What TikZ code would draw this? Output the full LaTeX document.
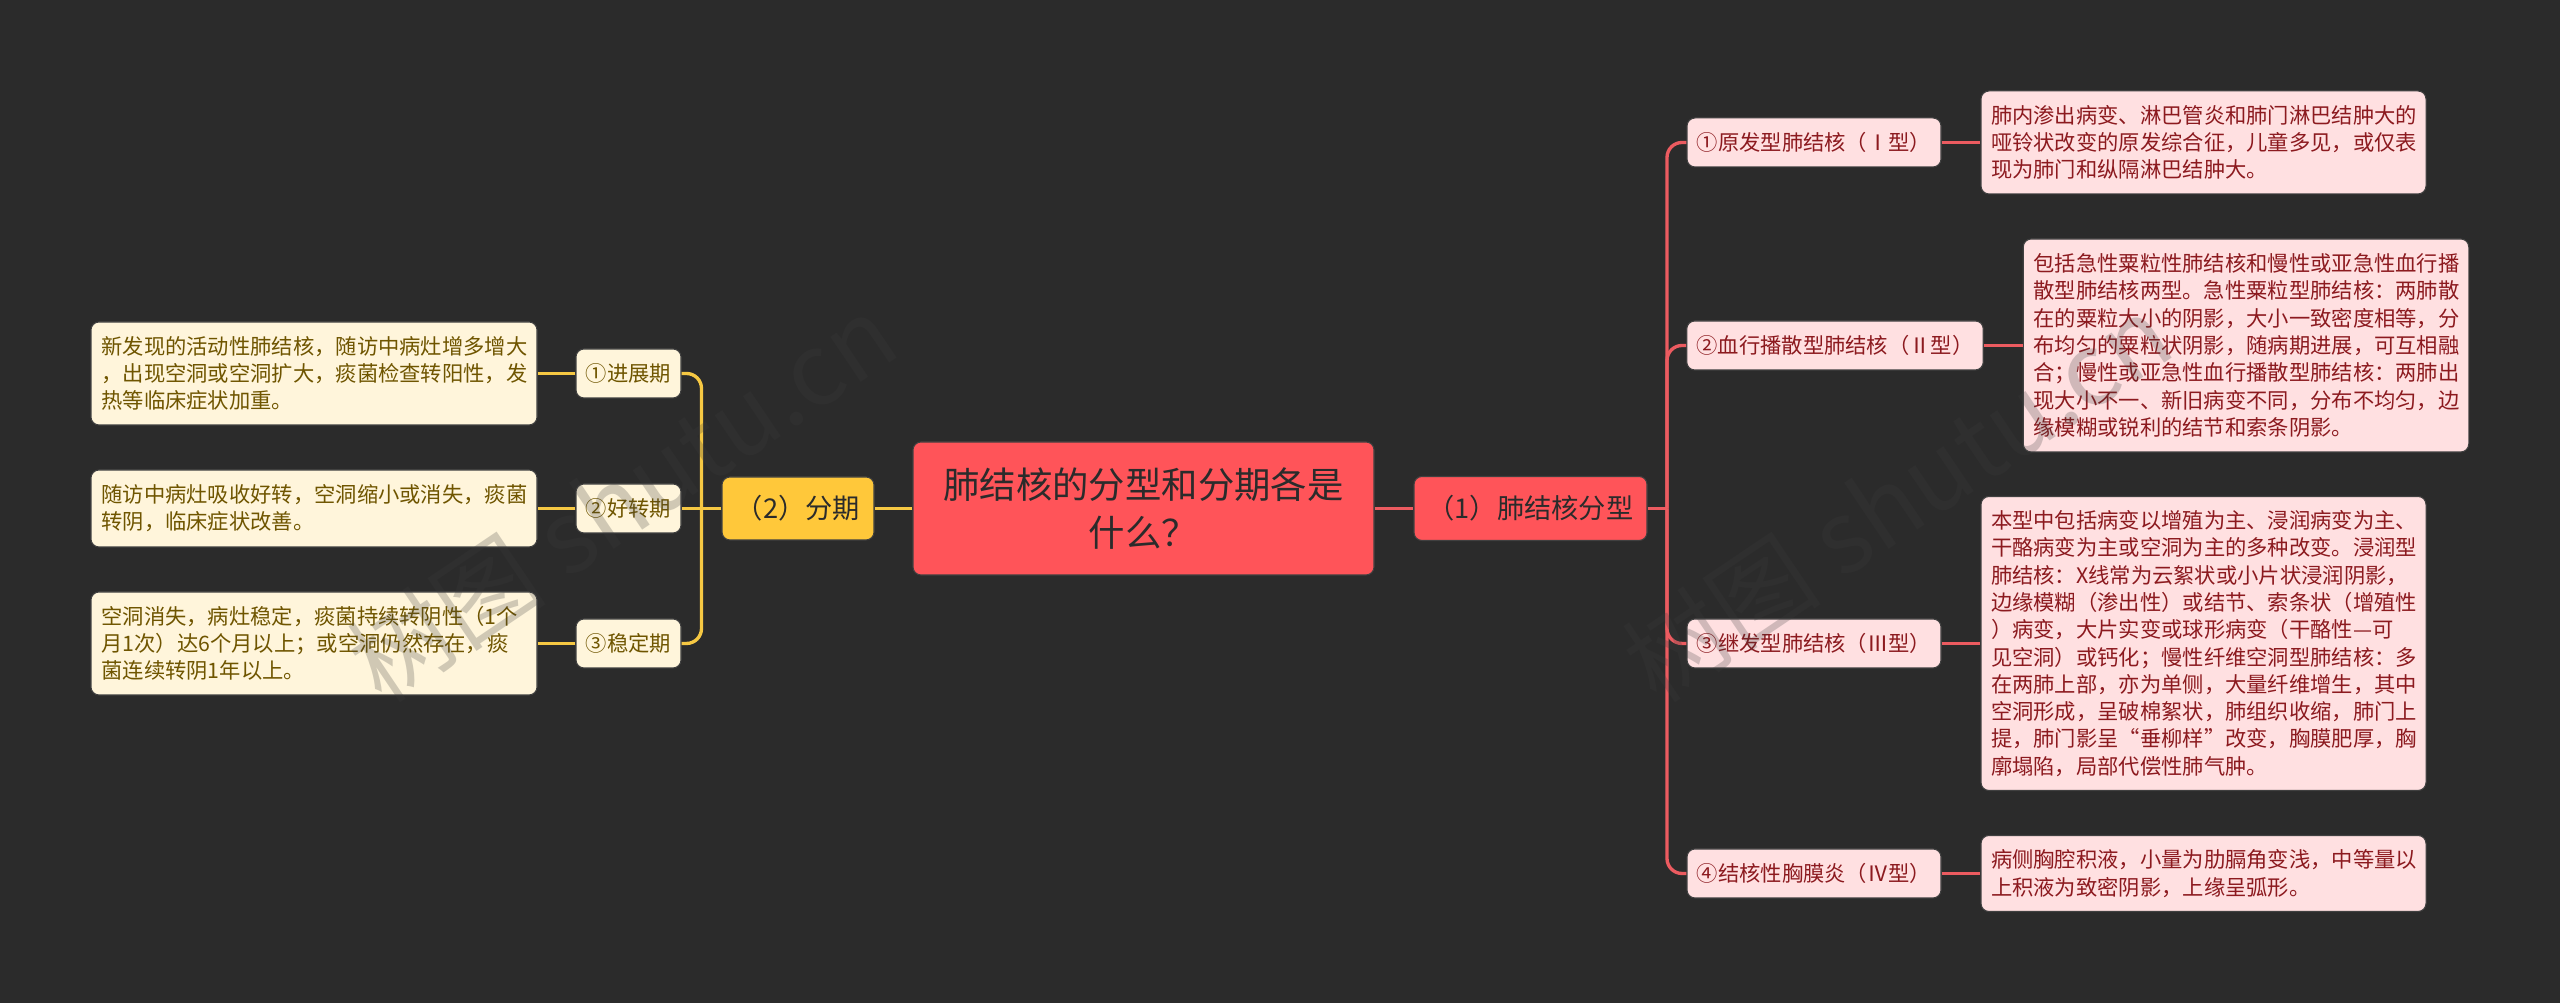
\documentclass[tikz,border=0pt]{standalone}
\usepackage{fontspec}
\setmainfont{Noto Sans CJK SC}
\definecolor{bgdark}{HTML}{2B2B2B}
\definecolor{rootred}{HTML}{FF5459}
\definecolor{linered}{HTML}{EC5B60}
\definecolor{lineyel}{HTML}{F6C843}
\definecolor{stageyel}{HTML}{FFC83A}
\definecolor{paleyel}{HTML}{FFF5DB}
\definecolor{palered}{HTML}{FFE0E1}
\definecolor{textyel}{HTML}{6F5500}
\definecolor{textred}{HTML}{8C1A1F}
\definecolor{markgray}{HTML}{3C3C3C}
\tikzset{
    box/.style={rounded corners=0.08cm, inner sep=0, draw=black!75, line width=0.3pt, align=center},
    root/.style={box, fill=rootred, text=bgdark, font=\fontsize{10.35}{13.7}\selectfont},
    head/.style={box, fill=#1, text=bgdark, font=\fontsize{7.75}{10}\selectfont},
    yelitem/.style={box, fill=paleyel, text=textyel, font=\fontsize{6.06}{7.77}\selectfont},
    reditem/.style={box, fill=palered, text=textred, font=\fontsize{6.06}{7.77}\selectfont},
    yelleaf/.style={yelitem, align=left, text width=4.25cm},
    redleaf/.style={reditem, align=left, text width=4.25cm},
    yelline/.style={draw=lineyel, line width=0.95pt, rounded corners=0.15cm},
    redline/.style={draw=linered, line width=0.95pt, rounded corners=0.15cm},
    shutu/.style={text=markgray, opacity=0.24, rotate=34, font=\fontsize{28.5}{30}\selectfont},
}
\begin{document}
\begin{tikzpicture}
    \useasboundingbox (0, 0) rectangle (25.6, 10.03);
    \fill[bgdark] (0, 0) rectangle (25.6, 10.03);

    \node[root, minimum width=4.61cm, minimum height=1.33cm] (main) at (11.435, 4.945) {肺结核的分型和分期各是\\什么？};

    % left side
    \node[head=stageyel, minimum width=1.52cm, minimum height=0.63cm] (stage) at (7.98, 4.945) {（2）分期};
    \coordinate (ltrunk) at (7.015, 4.945);
    \node[yelitem, minimum width=1.05cm, minimum height=0.49cm] (s1) at (6.285, 6.295) {①进展期};
    \node[yelitem, minimum width=1.05cm, minimum height=0.49cm] (s2) at (6.285, 4.945) {②好转期};
    \node[yelitem, minimum width=1.05cm, minimum height=0.49cm] (s3) at (6.285, 3.595) {③稳定期};
    \node[yelleaf, minimum width=4.46cm, minimum height=1.03cm] (sl1) at (3.14, 6.295) {新发现的活动性肺结核，随访中病灶增多增大\\，出现空洞或空洞扩大，痰菌检查转阳性，发\\热等临床症状加重。};
    \node[yelleaf, minimum width=4.46cm, minimum height=0.77cm] (sl2) at (3.14, 4.945) {随访中病灶吸收好转，空洞缩小或消失，痰菌\\转阴，临床症状改善。};
    \node[yelleaf, minimum width=4.46cm, minimum height=1.03cm] (sl3) at (3.14, 3.595) {空洞消失，病灶稳定，痰菌持续转阴性（1个\\月1次）达6个月以上；或空洞仍然存在，痰\\菌连续转阴1年以上。};

    % right side
    \node[head=rootred, minimum width=2.33cm, minimum height=0.64cm] (type) at (15.305, 4.945) {（1）肺结核分型};
    \coordinate (rtrunk) at (16.67, 4.945);
    \node[reditem, minimum width=2.54cm, minimum height=0.49cm] (t1) at (18.14, 8.605) {①原发型肺结核（Ⅰ型）};
    \node[reditem, minimum width=2.965cm, minimum height=0.49cm] (t2) at (18.35, 6.575) {②血行播散型肺结核（Ⅱ型）};
    \node[reditem, minimum width=2.54cm, minimum height=0.49cm] (t3) at (18.14, 3.595) {③继发型肺结核（Ⅲ型）};
    \node[reditem, minimum width=2.54cm, minimum height=0.49cm] (t4) at (18.14, 1.295) {④结核性胸膜炎（Ⅳ型）};
    \node[redleaf, minimum width=4.45cm, minimum height=1.03cm] (tl1) at (22.035, 8.605) {肺内渗出病变、淋巴管炎和肺门淋巴结肿大的\\哑铃状改变的原发综合征，儿童多见，或仅表\\现为肺门和纵隔淋巴结肿大。};
    \node[redleaf, minimum width=4.455cm, minimum height=2.13cm] (tl2) at (22.46, 6.575) {包括急性粟粒性肺结核和慢性或亚急性血行播\\散型肺结核两型。急性粟粒型肺结核：两肺散\\在的粟粒大小的阴影，大小一致密度相等，分\\布均匀的粟粒状阴影，随病期进展，可互相融\\合；慢性或亚急性血行播散型肺结核：两肺出\\现大小不一、新旧病变不同，分布不均匀，边\\缘模糊或锐利的结节和索条阴影。};
    \node[redleaf, minimum width=4.45cm, minimum height=2.94cm] (tl3) at (22.035, 3.595) {本型中包括病变以增殖为主、浸润病变为主、\\干酪病变为主或空洞为主的多种改变。浸润型\\肺结核：X线常为云絮状或小片状浸润阴影，\\边缘模糊（渗出性）或结节、索条状（增殖性\\）病变，大片实变或球形病变（干酪性—可\\见空洞）或钙化；慢性纤维空洞型肺结核：多\\在两肺上部，亦为单侧，大量纤维增生，其中\\空洞形成，呈破棉絮状，肺组织收缩，肺门上\\提，肺门影呈“垂柳样”改变，胸膜肥厚，胸\\廓塌陷，局部代偿性肺气肿。};
    \node[redleaf, minimum width=4.45cm, minimum height=0.76cm] (tl4) at (22.035, 1.295) {病侧胸腔积液，小量为肋膈角变浅，中等量以\\上积液为致密阴影，上缘呈弧形。};

    % connectors
    \draw[yelline] (main) -- (stage);
    \draw[yelline] (stage) -- (s2);
    \draw[yelline] (ltrunk) |- (s1.east);
    \draw[yelline] (ltrunk) |- (s3.east);
    \foreach \i in {1, 2, 3} {
        \draw[yelline] (s\i) -- (sl\i);
    }
    \draw[redline] (main) -- (type);
    \draw[redline] (type) -- (rtrunk);
    \foreach \i in {1, 2, 3, 4} {
        \draw[redline] (rtrunk) |- (t\i.west);
        \draw[redline] (t\i) -- (tl\i);
    }

    % watermarks
    \node[shutu] (markl) at (6.22, 5.05) {树图 shutu.cn};
    \node[shutu] (markr) at (18.97, 5.05) {树图 shutu.cn};
\end{tikzpicture}
\end{document}
